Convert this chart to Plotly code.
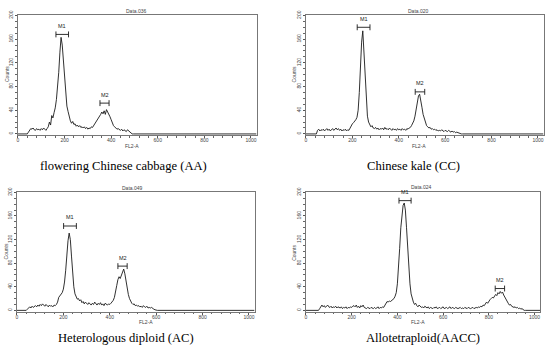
import plotly.graph_objects as go

# ---------------- data (counts per 5-channel bin, FL2-A) ----------------
STEP = 5
aa_counts = [0,0,0,0,0,0,0,0,0,3,7,9,8,10,7,6,9,7,8,6,9,7,10,8,6,9,12,20,15,31,27,36,44,58,76,104,138,163,150,124,96,62,47,38,27,22,18,21,16,17,13,15,12,14,11,12,10,12,9,11,8,10,9,12,11,14,16,19,22,25,28,33,37,34,39,33,41,37,35,29,24,18,14,12,10,8,9,7,6,8,5,7,6,4,7,5,3,2,0,0,0]
cc_counts = [0,0,0,0,0,0,0,0,0,0,6,8,5,7,6,8,5,7,9,6,8,5,7,9,6,8,10,7,9,6,8,5,7,6,8,5,7,6,10,14,17,19,21,24,28,40,70,115,155,174,140,90,50,30,20,16,12,14,10,9,11,8,10,7,9,8,10,7,11,8,9,7,10,8,6,9,7,8,6,9,7,8,6,9,7,8,6,9,8,10,11,14,17,22,30,42,55,64,67,58,45,33,25,18,14,12,10,11,8,9,7,8,6,7,5,6,5,7,5,4,6,5,4,6,4,3,5,3,4,2,3,2,1,1,0,0,0]
ac_counts = [0,0,0,0,0,0,0,0,0,2,4,6,4,7,5,6,8,6,9,7,10,8,11,9,7,10,8,6,9,7,8,6,9,8,10,14,22,25,27,30,36,48,68,96,118,131,120,92,62,40,28,22,19,20,16,18,13,15,11,14,12,10,13,11,9,12,10,14,11,9,12,10,13,9,11,8,12,10,9,11,10,12,14,17,22,30,42,52,57,54,60,66,70,62,50,36,27,20,15,12,10,11,8,9,7,8,6,7,5,8,6,5,7,4,5,4,5,3,2,1,0,0]
aacc_counts = [0,0,0,0,0,0,0,0,0,0,0,0,3,7,9,6,8,5,7,9,6,5,7,4,6,5,7,4,6,5,4,6,3,5,4,6,3,5,4,6,5,7,8,6,9,5,7,4,8,6,9,5,4,3,5,4,3,5,4,3,5,3,4,6,3,5,4,6,5,8,12,15,14,16,15,17,19,20,24,30,45,70,105,140,165,178,182,170,140,105,70,45,28,20,14,10,12,8,6,9,7,5,6,4,7,5,4,6,3,5,4,3,5,4,6,3,4,5,3,4,6,3,4,5,3,4,6,3,5,4,3,5,4,3,4,5,3,4,3,5,4,3,5,4,3,4,5,3,4,5,4,6,5,7,6,9,8,11,14,12,16,18,20,22,21,24,27,25,30,28,32,29,31,26,22,18,14,12,9,10,7,6,5,6,4,5,3,4,2,3,1,0,0]

file_names = ["Data.036", "Data.020", "Data.049", "Data.024"]
captions = ["flowering Chinese cabbage (AA)", "Chinese kale (CC)",
            "Heterologous diploid (AC)", "Allotetraploid(AACC)"]
# marker gates: (low channel, high channel, bracket height in counts)
m1_gates = [(163, 217, 168), (221, 276, 180), (201, 256, 143), (407, 460, 186)]
m2_gates = [(352, 391, 52), (471, 512, 71), (435, 475, 75), (828, 869, 37)]
x_ticks = [0, 200, 400, 600, 800, 1000]
y_ticks = [0, 40, 80, 120, 160, 200]

all_counts = [aa_counts, cc_counts, ac_counts, aacc_counts]

# ---------------- layout geometry (pixels) ----------------
W, H = 550, 349
# (left, right, top, bottom) of each plot box
boxes = [(17, 256, 10, 132), (305.5, 543.5, 10, 132),
         (16, 254, 189.5, 311), (305.5, 540, 189.5, 311)]
cap_pos = [(123, 163), (413.5, 163), (125, 338), (422.5, 338)]
title_pos = [(135.7, 6), (418, 6), (131.7, 185.7), (421.7, 184.3)]
counts_pos = [(6, 70), (294, 70), (5, 250), (293.3, 251.7)]
fl2_pos = [(131.7, 143.3), (419, 143.3), (145.7, 321.5), (417.7, 321.5)]

def px(x):
    return x / W

def py(y):
    return 1 - y / H

fig = go.Figure()
layout = dict(width=W, height=H, margin=dict(l=0, r=0, t=0, b=0),
              paper_bgcolor="white", plot_bgcolor="white", showlegend=False)

small = dict(family="Liberation Sans, Arial", size=5, color="#444")
annotations = []
line_col = "#1a1a1a"

for i in range(4):
    counts = all_counts[i]
    xs = [STEP * k for k in range(len(counts))] + [1024]
    ys = list(counts) + [0]
    xa = "x" if i == 0 else f"x{i+1}"
    ya = "y" if i == 0 else f"y{i+1}"
    fig.add_trace(go.Scatter(x=xs, y=ys, mode="lines", xaxis=xa, yaxis=ya,
                             line=dict(color=line_col, width=0.9), hoverinfo="skip"))
    # marker brackets
    for name, (lo, hi, lev) in (("M1", m1_gates[i]), ("M2", m2_gates[i])):
        cap = 5
        bx = [lo, lo, None, lo, hi, None, hi, hi]
        by = [lev - cap, lev + cap, None, lev, lev, None, lev - cap, lev + cap]
        fig.add_trace(go.Scatter(x=bx, y=by, mode="lines", xaxis=xa, yaxis=ya,
                                 line=dict(color=line_col, width=0.9), hoverinfo="skip"))
        annotations.append(dict(x=(lo + hi) / 2, y=lev + 6, xref=xa, yref=ya,
                                text=name, showarrow=False, yanchor="bottom",
                                font=dict(family="Liberation Sans, Arial", size=5.5, color="#222")))
    l, r, t, b = boxes[i]
    key = "" if i == 0 else str(i + 1)
    axis_common = dict(showline=True, mirror=True, linecolor="#777", linewidth=1,
                       ticks="outside", ticklen=2, tickcolor="#555", tickwidth=1,
                       showgrid=False, zeroline=False, tickfont=small)
    layout["xaxis" + key] = dict(domain=[px(l), px(r)], range=[0, 1024], anchor=ya,
                                 tickvals=x_ticks, ticklabelstandoff=-2,
                                 minor=dict(ticks="outside", ticklen=1.5, dtick=40,
                                            tickcolor="#666", showgrid=False),
                                 **axis_common)
    layout["yaxis" + key] = dict(domain=[py(b), py(t)], range=[-2, 201], anchor=xa,
                                 tickvals=y_ticks, tickangle=-90,
                                 minor=dict(ticks="outside", ticklen=1.5, dtick=10,
                                            tickcolor="#666", showgrid=False),
                                 **axis_common)
    cx, cy = cap_pos[i]
    annotations.append(dict(x=px(cx), y=py(cy), xref="paper", yref="paper",
                            text=captions[i], showarrow=False,
                            xanchor="center", yanchor="middle",
                            font=dict(family="Liberation Serif, Times New Roman", size=12.6, color="black")))
    tx, ty = title_pos[i]
    annotations.append(dict(x=px(tx), y=py(ty), xref="paper", yref="paper",
                            text=file_names[i], showarrow=False,
                            xanchor="center", yanchor="middle", font=small))
    ctx, cty = counts_pos[i]
    annotations.append(dict(x=px(ctx), y=py(cty), xref="paper", yref="paper",
                            text="Counts", showarrow=False, textangle=-90,
                            xanchor="center", yanchor="middle", font=small))
    fx, fy = fl2_pos[i]
    annotations.append(dict(x=px(fx), y=py(fy), xref="paper", yref="paper",
                            text="FL2-A", showarrow=False,
                            xanchor="center", yanchor="middle", font=small))

layout["annotations"] = annotations
fig.update_layout(**layout)
fig.write_html("out.html", config={"displayModeBar": False},
               post_script="document.body.style.margin='0';document.body.style.overflow='hidden';")
